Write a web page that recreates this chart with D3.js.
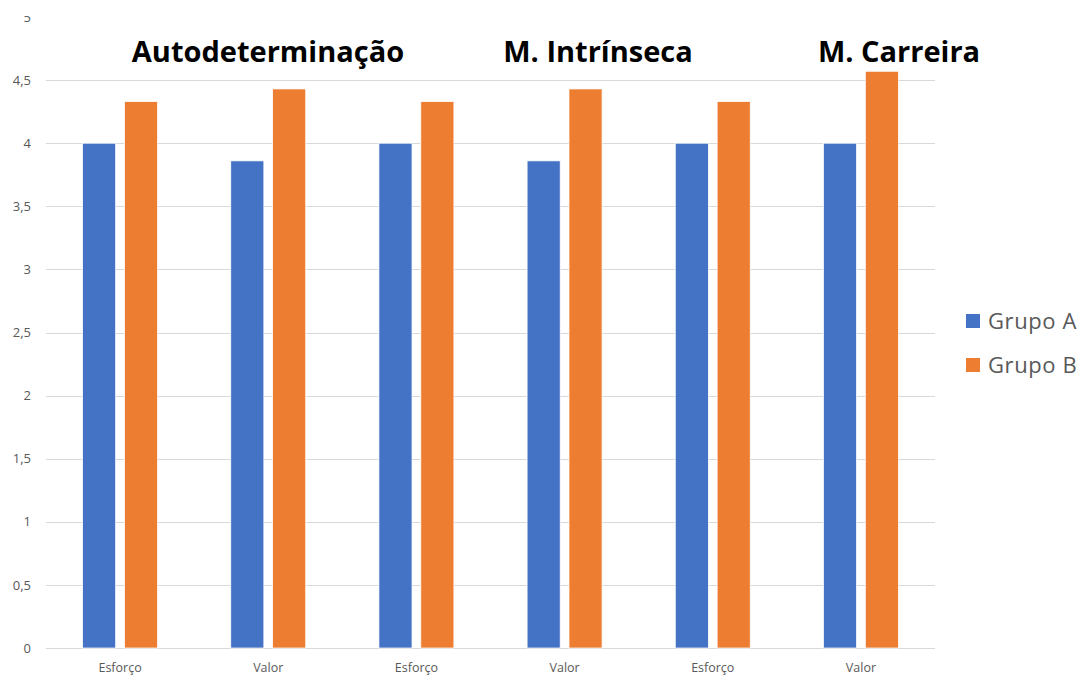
<!DOCTYPE html>
<html>
<head>
<meta charset="utf-8">
<script src="https://cdn.jsdelivr.net/npm/d3@7/dist/d3.min.js"></script>
<style>
  html, body { margin: 0; padding: 0; background: #fff; }
  svg { display: block; }
</style>
</head>
<body>
<svg id="chart" width="1081" height="676"></svg>
<script>
// Categories along the x axis (pairs of Esforço / Valor per dimension)
const categories = ["Esforço", "Valor", "Esforço", "Valor", "Esforço", "Valor"];
const seriesNames = ["Grupo A", "Grupo B"];
const grupoA = [4.00, 3.86, 4.00, 3.86, 4.00, 4.00];
const grupoB = [4.33, 4.43, 4.33, 4.43, 4.33, 4.57];
const yTicks = [0, 0.5, 1, 1.5, 2, 2.5, 3, 3.5, 4, 4.5, 5];
const sectionTitles = ["Autodeterminação", "M. Intrínseca", "M. Carreira"];

const colors = { "Grupo A": "#4472C4", "Grupo B": "#ED7D31" };
const rows = categories.map((c, i) => ({ idx: i, cat: c, "Grupo A": grupoA[i], "Grupo B": grupoB[i] }));

const svg = d3.select("#chart");
const plot = { left: 46, right: 935, top: 17, bottom: 648 };

const x = d3.scaleBand().domain(d3.range(categories.length)).range([plot.left, plot.right]).paddingInner(0.494).paddingOuter(0.247);
const x1 = d3.scaleBand().domain(seriesNames).range([0, x.bandwidth()]).paddingInner(0.21);
const y = d3.scaleLinear().domain([0, 5]).range([plot.bottom, plot.top]);

// clip region: the top edge of the frame cuts off the upper part of the chart
svg.append("clipPath").attr("id", "frame")
  .append("rect").attr("x", -200).attr("y", 16).attr("width", 1400).attr("height", 661);

// gridlines
svg.append("g")
  .selectAll("line")
  .data(yTicks.filter(t => t < 5))
  .join("line")
  .attr("x1", plot.left).attr("x2", plot.right)
  .attr("y1", d => Math.round(y(d)) + 0.5).attr("y2", d => Math.round(y(d)) + 0.5)
  .attr("stroke", "#d9d9d9").attr("stroke-width", 1);

// y axis labels
const yAxis = d3.axisLeft(y).tickValues(yTicks).tickSize(0).tickPadding(0)
  .tickFormat(d => String(d).replace(".", ","));
const yg = svg.append("g").attr("transform", `translate(31,0)`).attr("clip-path", "url(#frame)").call(yAxis);
yg.select(".domain").remove();
yg.selectAll("text").attr("fill", "#595959").style("font-family", "'Open Sans', sans-serif").style("font-size", "13px");

// bars
const groups = svg.append("g").selectAll("g").data(rows).join("g")
  .attr("transform", d => `translate(${x(d.idx)},0)`);
groups.selectAll("rect")
  .data(d => seriesNames.map(s => ({ s, v: d[s] })))
  .join("rect")
  .attr("x", d => x1(d.s))
  .attr("width", x1.bandwidth())
  .attr("y", d => y(d.v))
  .attr("height", d => y(0) - y(d.v))
  .attr("fill", d => colors[d.s])
  .attr("stroke", "#ffffff").attr("stroke-width", 0.75);

// x axis labels
const xAxis = d3.axisBottom(x).tickSize(0).tickPadding(0).tickFormat(i => categories[i]);
const xg = svg.append("g").attr("transform", `translate(0,${plot.bottom + 15})`).call(xAxis);
xg.select(".domain").remove();
xg.selectAll("text").attr("fill", "#595959").style("font-family", "'Open Sans', sans-serif").style("font-size", "12.5px");

// section titles
const titleX = [268, 598, 899];
svg.append("g").selectAll("text").data(sectionTitles).join("text")
  .attr("x", (d, i) => titleX[i])
  .attr("y", 62)
  .attr("text-anchor", "middle")
  .attr("fill", "#000")
  .style("font-family", "'Open Sans', sans-serif")
  .style("font-weight", "bold")
  .style("font-size", "29px")
  .text(d => d);

// legend
const legend = svg.append("g").attr("transform", "translate(966,321)");
const li = legend.selectAll("g").data(seriesNames).join("g")
  .attr("transform", (d, i) => `translate(0,${i * 44})`);
li.append("rect").attr("x", 0).attr("y", -7).attr("width", 14).attr("height", 14).attr("fill", d => colors[d]);
li.append("text").attr("x", 22).attr("y", 0).attr("dy", "0.35em")
  .attr("fill", "#595959")
  .style("font-family", "'Open Sans', sans-serif")
  .style("font-size", "22px")
  .style("letter-spacing", "0.6px")
  .text(d => d);
</script>
</body>
</html>
